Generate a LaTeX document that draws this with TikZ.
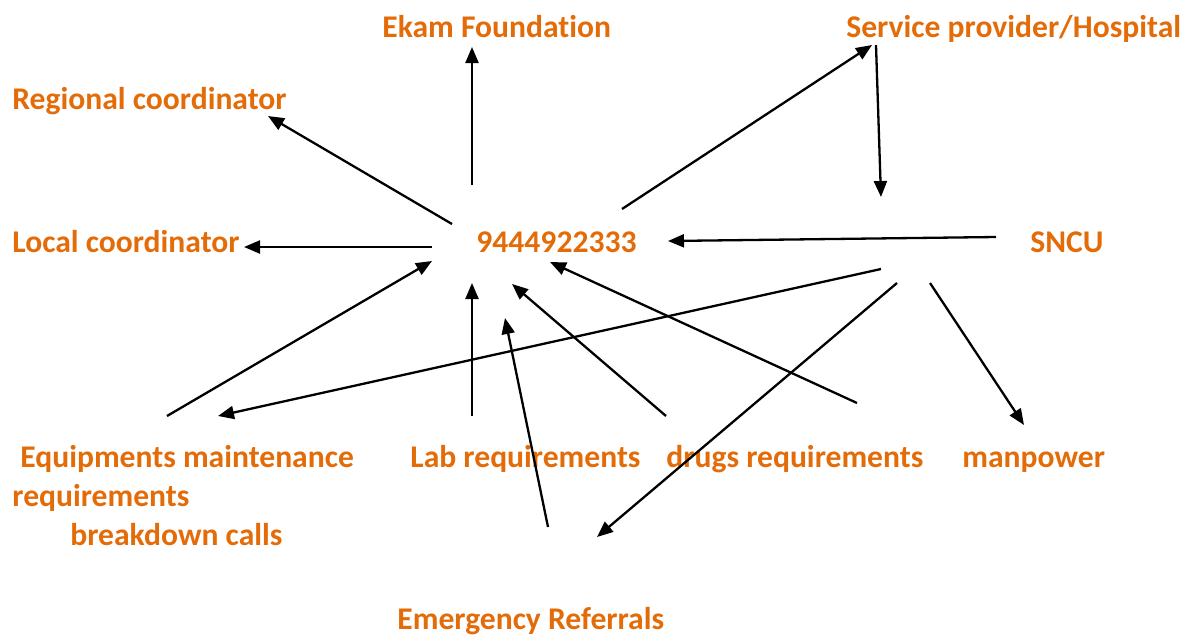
\documentclass[tikz,border=0pt]{standalone}
\usepackage{fontspec}
\setmainfont{Carlito}[Ligatures=NoCommon]
\usetikzlibrary{positioning, arrows.meta}
\definecolor{orng}{HTML}{E36C09}
\tikzset{
  lbl/.style={text=orng, font=\bfseries\fontsize{15.8}{18}\selectfont, inner sep=0pt, anchor=base west},
  arr/.style={-{Triangle[length=8pt,width=6.5pt]}, line width=1.15pt},
  ln/.style={line width=1.15pt}
}

\begin{document}
\begin{tikzpicture}[x=0.5pt,y=-0.5pt]
	\useasboundingbox (0,0) rectangle (1191,634);
	% labels
	\node (ekam)[lbl] at (382,37) {Ekam Foundation};
	\node (serv)[lbl] at (846,37) {Service provider/Hospital};
	\node (reg)[lbl] at (12,109) {Regional coordinator};
	\node (loc)[lbl] at (12,252) {Local coordinator};
	\node (num)[lbl] at (476,252) {9444922333};
	\node (sncu)[lbl] at (1030,252) {SNCU};
	\node (equ)[lbl] at (20,467) {Equipments maintenance};
	\node (req)[lbl] at (12,506) {requirements};
	\node (brk)[lbl] at (70,545) {breakdown calls};
	\node (lab)[lbl] at (410,467) {Lab requirements};
	\node (drug)[lbl] at (666,467) {drugs requirements};
	\node (man)[lbl] at (962,467) {manpower};
	\node (emer)[lbl] at (397,629) {Emergency Referrals};
	% free ends of the arrows
	\coordinate (numN) at (472,185);
	\coordinate (numNW) at (452,224);
	\coordinate (numW) at (432,247);
	\coordinate (numNE) at (622,209);
	\coordinate (ekamS) at (472,47);
	\coordinate (regS) at (268,116);
	\coordinate (locE) at (244,247);
	\coordinate (servS) at (872,45);
	\coordinate (servT) at (876,45);
	\coordinate (servB) at (881,197);
	\coordinate (sncuW) at (996,237);
	\coordinate (numE) at (668,241);
	\coordinate (sncuA) at (881,269);
	\coordinate (sncuB) at (897,283);
	\coordinate (sncuC) at (930,283);
	\coordinate (equN) at (218,416);
	\coordinate (equT) at (167,416);
	\coordinate (numSW) at (432,261);
	\coordinate (labN) at (472,416);
	\coordinate (numS) at (472,283);
	\coordinate (emerN) at (548,527);
	\coordinate (emerE) at (597,537);
	\coordinate (numSS) at (505,318);
	\coordinate (drugA) at (666,416);
	\coordinate (numSE) at (512,284);
	\coordinate (drugB) at (857,403);
	\coordinate (numEE) at (550,262);
	\coordinate (manN) at (1024,425);
	% arrows
	\draw[arr] (numN) -- (ekamS);
	\draw[arr] (numNW) -- (regS);
	\draw[arr] (numW) -- (locE);
	\draw[arr] (numNE) -- (servS);
	\draw[arr] (servT) -- (servB);
	\draw[arr] (sncuW) -- (numE);
	\draw[arr] (sncuA) -- (equN);
	\draw[arr] (sncuB) -- (emerE);
	\draw[arr] (sncuC) -- (manN);
	\draw[arr] (equT) -- (numSW);
	\draw[arr] (labN) -- (numS);
	\draw[arr] (emerN) -- (numSS);
	\draw[arr] (drugA) -- (numSE);
	\draw[arr] (drugB) -- (numEE);
\end{tikzpicture}
\end{document}
